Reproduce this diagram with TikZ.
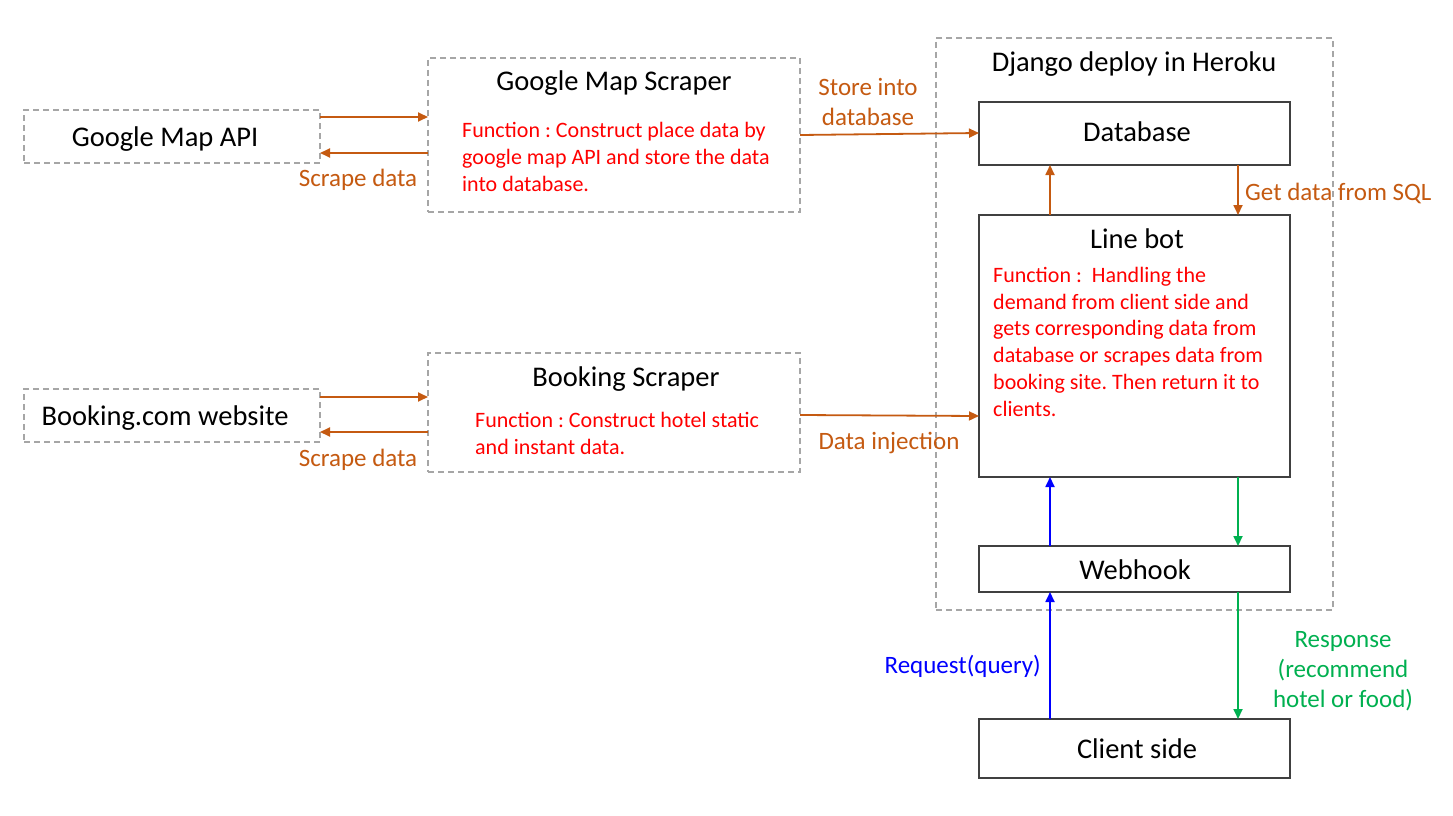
\documentclass[tikz,border=0pt]{standalone}
\usepackage{fontspec}
\setmainfont{Carlito}
\usetikzlibrary{arrows.meta}
\definecolor{orng}{HTML}{C55A11}
\definecolor{grn}{HTML}{00B050}
\definecolor{dgray}{HTML}{404040}
\definecolor{lgray}{HTML}{A6A6A6}
\frenchspacing
\begin{document}
\begin{tikzpicture}[x=1pt,y=-1pt,
 dbox/.style={draw=lgray, line width=2pt, dash pattern=on 6pt off 4pt, inner sep=0pt, outer sep=0pt},
 sbox/.style={draw=dgray, line width=2pt, inner sep=0pt, outer sep=0pt, minimum width=311},
 big/.style={font=\fontsize{28.5}{34}\selectfont, inner sep=0pt},
 lbl/.style={font=\fontsize{25}{30}\selectfont, inner sep=0pt, align=center},
 fn/.style={font=\fontsize{22}{26.7}\selectfont, text=red, inner sep=0pt, align=left},
 arr/.style={line width=1.8pt, -{Triangle[length=10pt,width=9pt]}},
]
\useasboundingbox[fill=white] (0,0) rectangle (1453,816);

% left boxes
\node[dbox, minimum width=296, minimum height=53] (gapi) at (172,136.5) {};
\node[big, anchor=base] (gapit) at (165,146) {Google Map API};
\node[dbox, minimum width=296, minimum height=53] (bweb) at (172,415.5) {};
\node[big, anchor=base] (bwebt) at (165,425) {Booking.com website};

% scrapers
\node[dbox, minimum width=372, minimum height=154] (gms) at (614,135) {};
\node[big, anchor=base] (gmst) at (614,90) {Google Map Scraper};
\node[fn, anchor=base west] (gmsf) at (462,191) {Function : Construct place data by\\google map API and store the data\\into database.};
\node[dbox, minimum width=372, minimum height=119] (bs) at (614,412.5) {};
\node[big, anchor=base] (bst) at (626,386) {Booking Scraper};
\node[fn, anchor=base west] (bsf) at (475,454) {Function : Construct hotel static\\and instant data.};

% django container
\node[dbox, minimum width=397, minimum height=572] (dj) at (1134.5,324) {};
\node[big, anchor=base] (djt) at (1134,71) {Django deploy in Heroku};
\node[sbox, minimum height=63] (db) at (1134.5,133.5) {};
\node[big, anchor=base] (dbt) at (1137,141) {Database};
\node[sbox, minimum height=262] (lb) at (1134.5,346) {};
\node[big, anchor=base] (lbt) at (1137,248) {Line bot};
\node[fn, anchor=base west] (lbf) at (993,416) {Function :~ Handling the\\demand from client side and\\gets corresponding data from\\database or scrapes data from\\booking site. Then return it to\\clients.};
\node[sbox, minimum height=46] (wh) at (1134.5,569) {};
\node[big, anchor=base] (wht) at (1135,579) {Webhook};
\node[sbox, minimum height=59] (cs) at (1134.5,748.5) {};
\node[big, anchor=base] (cst) at (1137,758) {Client side};

% arrows
\draw[arr, orng] (gapi.east |- 0,117) -- (gms.west |- 0,117);
\draw[arr, orng] (gms.west |- 0,153) -- (gapi.east |- 0,153);
\draw[arr, orng] (bweb.east |- 0,397) -- (bs.west |- 0,397);
\draw[arr, orng] (bs.west |- 0,432) -- (bweb.east |- 0,432);
\draw[arr, orng] (gms.east |- 0,135) -- (db.west |- 0,133);
\draw[arr, orng] (bs.east |- 0,415) -- (lb.west |- 0,416);
\draw[arr, orng] (lb.north -| 1050,0) -- (db.south -| 1050,0);
\draw[arr, orng] (db.south -| 1238,0) -- (lb.north -| 1238,0);
\draw[arr, blue] (wh.north -| 1050,0) -- (lb.south -| 1050,0);
\draw[arr, grn] (lb.south -| 1238,0) -- (wh.north -| 1238,0);
\draw[arr, blue] (cs.north -| 1050,0) -- (wh.south -| 1050,0);
\draw[arr, grn] (wh.south -| 1238,0) -- (cs.north -| 1238,0);

% labels
\node[lbl, text=orng, anchor=base] (sd1) at (358,186) {Scrape data};
\node[lbl, text=orng, anchor=base] (sd2) at (358,466) {Scrape data};
\node[lbl, text=orng, anchor=base] (sid) at (868,125) {Store into\\database};
\node[lbl, text=orng, anchor=base] (di) at (889,449) {Data injection};
\node[lbl, text=orng, anchor=base west] (gd) at (1245,200) {Get data from SQL};
\node[lbl, text=blue, anchor=base east] (rq) at (1041,673) {Request(query)};
\node[lbl, text=grn, anchor=base] (rs) at (1343,707) {Response\\(recommend\\hotel or food)};
\end{tikzpicture}
\end{document}
